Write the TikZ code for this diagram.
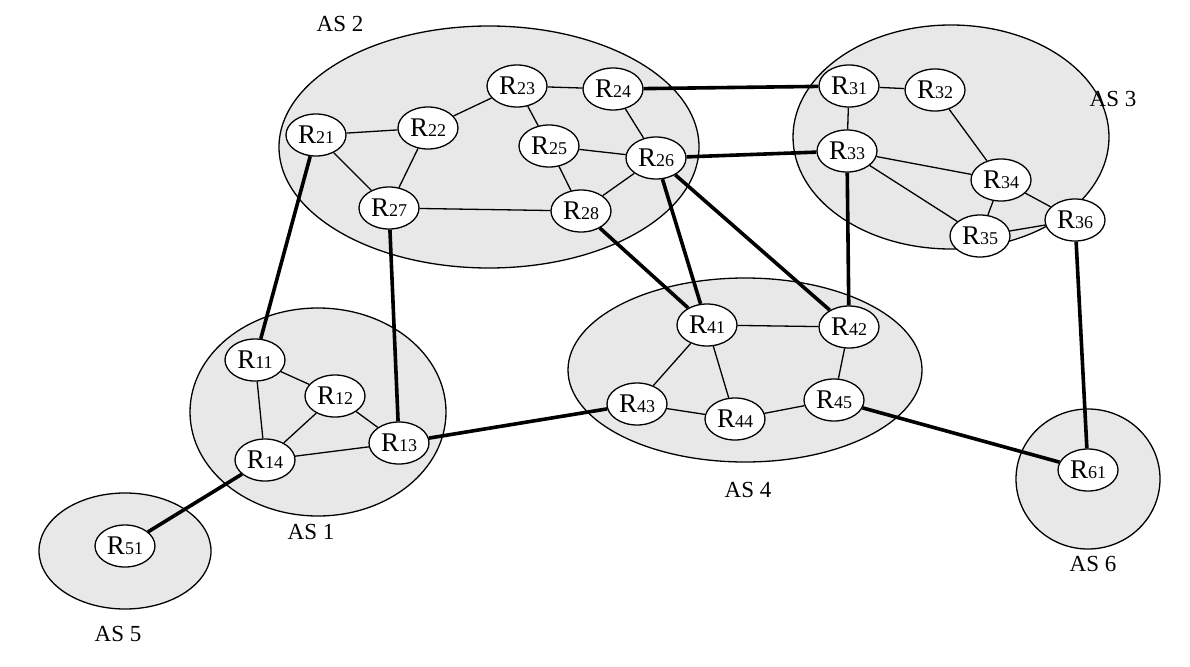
\documentclass[tikz,border=0pt]{standalone}
\usepackage{fontspec}
\setmainfont{Liberation Serif}
\usetikzlibrary{shapes.geometric}
\begin{document}
\begin{tikzpicture}[x=1pt,y=-1pt,
 as/.style={draw,fill=gray!18,line width=1.3pt},
 r/.style={draw,fill=white,ellipse,line width=1.3pt,minimum width=60pt,minimum height=42pt,inner sep=0pt,font=\fontsize{27}{27}\selectfont},
 lk/.style={line width=1.3pt},
 tk/.style={line width=3.6pt},
 lab/.style={font=\fontsize{23}{23}\selectfont}]
\useasboundingbox (0,0) rectangle (1190,666);
\path[as] (489,147) ellipse (210 and 121);
\path[as] (951,137) ellipse (158 and 112);
\path[as] (745,370) ellipse (177 and 92);
\path[as] (318,412) ellipse (128 and 104);
\path[as] (125,551) ellipse (86 and 58);
\path[as] (1088,479) ellipse (72 and 70);
\node[lab] (l2) at (340,24) {AS 2};
\node[lab] (l3) at (1113,99) {AS 3};
\node[lab] (l4) at (748,490) {AS 4};
\node[lab] (l1) at (311,532) {AS 1};
\node[lab] (l5) at (118,634) {AS 5};
\node[lab] (l6) at (1093,564) {AS 6};
\newcommand\rt[3]{\node[r] (#1) at (#2,#3) {R{\fontsize{18}{18}\selectfont #1}};}
\rt{21}{316}{135}\rt{22}{428}{128}\rt{23}{517}{86}\rt{24}{613}{89}
\rt{25}{549}{146}\rt{26}{656}{158}\rt{27}{389}{208}\rt{28}{581}{211}
\rt{31}{849}{86}\rt{32}{935}{90}\rt{33}{847}{151}\rt{34}{1001}{180}
\rt{35}{980}{236}\rt{36}{1075}{220}
\rt{41}{707}{325}\rt{42}{849}{327}\rt{43}{637}{404}\rt{44}{735}{419}\rt{45}{834}{400}
\rt{11}{255}{360}\rt{12}{335}{396}\rt{13}{399}{443}\rt{14}{265}{460}
\rt{51}{125}{546}\rt{61}{1088}{470}
\foreach \a/\b in {21/22,21/27,22/27,22/23,23/24,23/25,24/26,25/26,25/28,26/28,27/28,
31/32,31/33,32/34,33/34,33/35,34/35,34/36,35/36,
41/42,41/43,41/44,42/45,43/44,44/45,
11/12,11/14,12/14,12/13,14/13}
 \draw[lk] (\a) -- (\b);
\foreach \a/\b in {21/11,27/13,24/31,26/33,28/41,26/41,26/42,33/42,36/61,45/61,13/43,14/51}
 \draw[tk] (\a) -- (\b);
\end{tikzpicture}
\end{document}
